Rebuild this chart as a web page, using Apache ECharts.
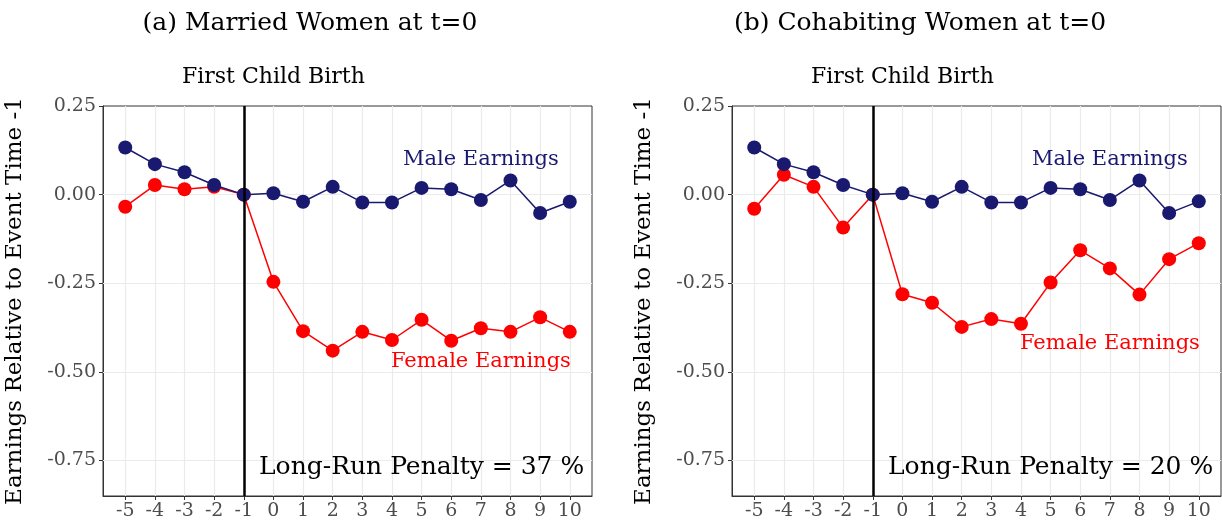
<!DOCTYPE html>
<html>
<head>
<meta charset="utf-8">
<script src="https://cdn.jsdelivr.net/npm/echarts@6/dist/echarts.min.js"></script>
<style>
html,body{margin:0;padding:0;background:#fff;}
#chart{width:1222px;height:529px;}
</style>
</head>
<body>
<div id="chart"></div>
<script>
// ---- data ----
const eventTimes = [-5,-4,-3,-2,-1,0,1,2,3,4,5,6,7,8,9,10];
const maleMarried   = [0.133,0.086,0.063,0.027,0,0.004,-0.020,0.022,-0.022,-0.022,0.019,0.015,-0.015,0.040,-0.052,-0.020];
const femaleMarried = [-0.034,0.027,0.015,0.022,0,-0.246,-0.385,-0.440,-0.387,-0.410,-0.353,-0.412,-0.377,-0.387,-0.346,-0.387];
const maleCohab     = [0.133,0.086,0.063,0.027,0,0.004,-0.020,0.022,-0.022,-0.022,0.019,0.015,-0.015,0.040,-0.052,-0.019];
const femaleCohab   = [-0.040,0.056,0.022,-0.093,0,-0.281,-0.305,-0.373,-0.351,-0.364,-0.248,-0.157,-0.208,-0.282,-0.182,-0.137];
const yTicks = [-0.75,-0.5,-0.25,0,0.25];
const panelTitles = ['(a) Married Women at t=0','(b) Cohabiting Women at t=0'];
const penalties = [37, 20];
const eventTime = -1;
const eventLabel = 'First Child Birth';
const yAxisTitle = 'Earnings Relative to Event Time -1';
const maleLabel = 'Male Earnings';
const femaleLabel = 'Female Earnings';
// annotation anchor points (data coordinates)
const eventLabelAt = [0, 0.33];
const maleLabelAt = [[7, 0.10],[7, 0.10]];
const femaleLabelAt = [[7, -0.47],[7, -0.42]];
const penaltyAt = [5, -0.77];

const FONT = 'DejaVu Serif';
const MALE = '#191970';
const FEMALE = '#ff0000';
const X_MIN = -5.75, X_MAX = 10.75, Y_MIN = -0.85, Y_MAX = 0.25;

const panels = [
  {male: maleMarried, female: femaleMarried},
  {male: maleCohab, female: femaleCohab}
];
const grids = [
  {left: 103, top: 106, width: 489, height: 390},
  {left: 732, top: 106, width: 489, height: 390}
];

const chart = echarts.init(document.getElementById('chart'), null, {renderer:'canvas'});

const xAxes = [], yAxes = [], series = [], titles = [];
panels.forEach((p, i) => {
  xAxes.push({
    type:'value', gridIndex:i, min:X_MIN, max:X_MAX,
    axisLine:{show:true, onZero:false, lineStyle:{color:'#333', width:1}},
    axisTick:{show:true, customValues:eventTimes, length:4, lineStyle:{color:'#333', width:1}},
    axisLabel:{customValues:eventTimes, color:'#4d4d4d', fontFamily:FONT, fontSize:19, margin:6},
    splitLine:{show:false}
  });
  yAxes.push({
    type:'value', gridIndex:i, min:Y_MIN, max:Y_MAX,
    name: yAxisTitle, nameLocation:'middle', nameRotate:90, nameGap:76,
    nameTextStyle:{fontFamily:FONT, fontSize:23, color:'#000'},
    axisLine:{show:true, onZero:false, lineStyle:{color:'#333', width:1}},
    axisTick:{show:true, customValues:yTicks, length:4, lineStyle:{color:'#333', width:1}},
    axisLabel:{customValues:yTicks, color:'#4d4d4d', fontFamily:FONT, fontSize:19, margin:7,
      formatter: v => v.toFixed(2)},
    splitLine:{show:false}
  });
  titles.push({
    text: panelTitles[i], left: (i===0 ? 305 : 915), top: 6, textAlign:'center',
    textStyle:{fontFamily:FONT, fontSize:25, fontWeight:'normal', color:'#000'}
  });
  // background grid lines (drawn through the axes' scales)
  series.push({
    type:'line', xAxisIndex:i, yAxisIndex:i, z:1, data:[], silent:true, animation:false,
    markLine:{
      z:1, silent:true, symbol:'none', label:{show:false}, animation:false,
      lineStyle:{color:'#ebebeb', width:1.2, type:'solid'},
      data: eventTimes.map(t => ({xAxis:t})).concat(
            yTicks.filter(v => v < Y_MAX && v > Y_MIN).map(v => ({yAxis:v})))
    }
  });
  series.push({
    type:'line', xAxisIndex:i, yAxisIndex:i, z:3,
    data: eventTimes.map((t,k)=>[t, p.female[k]]),
    symbol:'circle', symbolSize:14, showSymbol:true,
    lineStyle:{color:FEMALE, width:1.5}, itemStyle:{color:FEMALE},
    silent:true, animation:false,
    markLine:{
      z:5, silent:true, symbol:'none', label:{show:false}, animation:false,
      lineStyle:{color:'#000', width:2.5, type:'solid'},
      data:[{xAxis:eventTime}]
    }
  });
  series.push({
    type:'line', xAxisIndex:i, yAxisIndex:i, z:4,
    data: eventTimes.map((t,k)=>[t, p.male[k]]),
    symbol:'circle', symbolSize:14, showSymbol:true,
    lineStyle:{color:MALE, width:1.5}, itemStyle:{color:MALE},
    silent:true, animation:false
  });
  const txt = (at, text, color, size) => ({
    type:'scatter', xAxisIndex:i, yAxisIndex:i, clip:false, silent:true, animation:false, z:6,
    symbolSize:1, itemStyle:{color:'rgba(0,0,0,0)'},
    label:{show:true, position:'inside', formatter:text, color:color, fontFamily:FONT, fontSize:size,
      textBorderWidth:0, textBorderColor:'transparent', textShadowBlur:0, opacity:1},
    data:[at]
  });
  series.push(txt(eventLabelAt, eventLabel, '#000', 22));
  series.push(txt(maleLabelAt[i], maleLabel, MALE, 21));
  series.push(txt(femaleLabelAt[i], femaleLabel, FEMALE, 21));
  series.push(txt(penaltyAt, 'Long-Run Penalty = ' + penalties[i] + ' %', '#000', 25));
});

chart.setOption({
  animation:false,
  backgroundColor:'#fff',
  title: titles,
  grid: grids.map(g => Object.assign({show:true, borderColor:'#333', borderWidth:1, backgroundColor:'#fff'}, g)),
  xAxis: xAxes,
  yAxis: yAxes,
  series: series
});
</script>
</body>
</html>
